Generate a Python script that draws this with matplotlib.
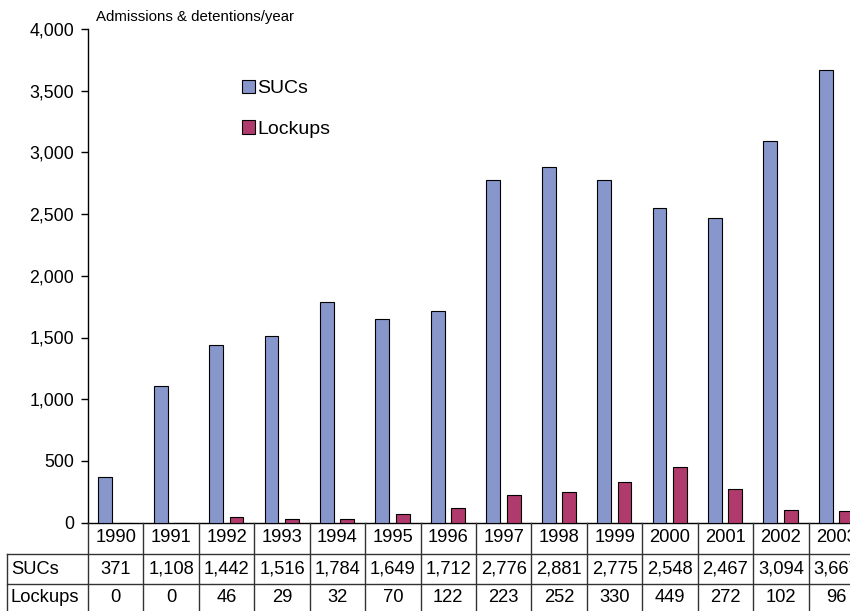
import matplotlib
matplotlib.use("Agg")
import matplotlib.pyplot as plt
import matplotlib.transforms as mtransforms
from matplotlib.ticker import FuncFormatter
import numpy as np

plt.rcParams['font.family'] = ['Liberation Sans', 'DejaVu Sans']

# Admissions to SUCs and detentions in lockups per year
years = ['1990', '1991', '1992', '1993', '1994', '1995', '1996',
         '1997', '1998', '1999', '2000', '2001', '2002', '2003']
sucs = [371, 1108, 1442, 1516, 1784, 1649, 1712,
        2776, 2881, 2775, 2548, 2467, 3094, 3667]
lockups = [0, 0, 46, 29, 32, 70, 122,
           223, 252, 330, 449, 272, 102, 96]
series_names = ['SUCs', 'Lockups']

suc_color = '#8797cc'
lock_color = '#b03a6c'

W, H = 850, 611
fig = plt.figure(figsize=(W / 100, H / 100), dpi=100)

# plot area in pixels: y axis at x=88, zero line at y=522.6, top at y=29
x0, y0, y_top = 88, 522.6, 29
col_w = 55.43
ax = fig.add_axes([x0 / W, (H - y0) / H, len(years) * col_w / W, (y0 - y_top) / H])

x = np.arange(len(years))
bw = 0.25
ax.bar(x - 0.19, sucs, bw, color=suc_color, edgecolor='black', linewidth=0.8,
       label=series_names[0], zorder=3)
ax.bar(x + 0.18, lockups, bw, color=lock_color, edgecolor='black', linewidth=0.8,
       label=series_names[1], zorder=3)

ax.set_xlim(-0.5, len(years) - 0.5)
ax.set_ylim(0, 4000)
ax.set_yticks(np.arange(0, 4001, 500))
ax.yaxis.set_major_formatter(FuncFormatter(lambda v, p: f'{int(v):,}'))
ax.tick_params(axis='y', direction='out', length=5, width=1, labelsize=12.8, pad=5)
ax.tick_params(axis='x', bottom=False, labelbottom=False)
for s in ['top', 'right']:
    ax.spines[s].set_visible(False)
ax.spines['left'].set_linewidth(1)
ax.spines['bottom'].set_linewidth(1)

fig.text(96 / W, 1 - 17 / H, 'Admissions & detentions/year', fontsize=10.8,
         ha='left', va='center')

ax.legend(loc='upper left', bbox_to_anchor=((242 - x0) / (len(years) * col_w), 0.897),
          frameon=False, fontsize=14, handlelength=0.68, handleheight=0.68,
          handletextpad=0.1, labelspacing=1.18, borderpad=0, borderaxespad=0)

# data table below the plot
tr = mtransforms.blended_transform_factory(ax.transData, fig.transFigure)
fy = lambda py: 1 - py / H
line_kw = dict(color='#333333', linewidth=1, clip_on=False)

row_lines = [554, 584]
bottom = H + 5
for ry in row_lines:
    fig.add_artist(plt.Line2D([7 / W, 1.05], [fy(ry), fy(ry)], transform=fig.transFigure, **line_kw))
fig.add_artist(plt.Line2D([7 / W, 7 / W], [fy(554), fy(bottom)], transform=fig.transFigure, **line_kw))
for b in np.arange(len(years) + 1) - 0.5:
    fig.add_artist(plt.Line2D([b, b], [fy(y0), fy(bottom)], transform=tr, **line_kw))

tfs = 13.2
for i, yr in enumerate(years):
    fig.text(i, fy(538), yr, transform=tr, ha='center', va='center', fontsize=tfs)
    fig.text(i, fy(569), f'{sucs[i]:,}', transform=tr, ha='center', va='center', fontsize=tfs)
    fig.text(i, fy(598), f'{lockups[i]:,}', transform=tr, ha='center', va='center', fontsize=tfs)

fig.text(11 / W, fy(569), series_names[0], ha='left', va='center', fontsize=tfs)
fig.text(11 / W, fy(598), series_names[1], ha='left', va='center', fontsize=tfs)

fig.savefig('out.png', dpi=100)
